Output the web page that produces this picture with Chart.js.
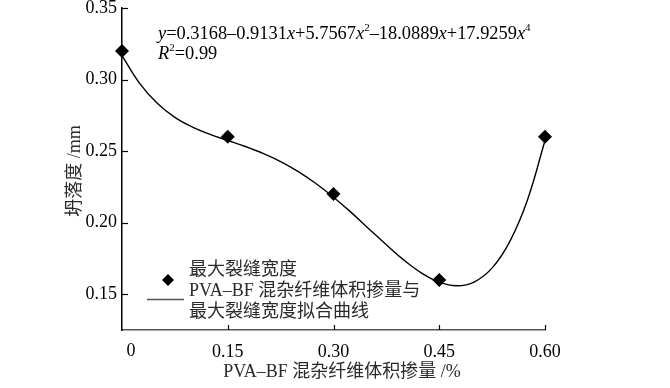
<!DOCTYPE html>
<html>
<head>
<meta charset="utf-8">
<script src="https://cdn.jsdelivr.net/npm/chart.js@4/dist/chart.umd.min.js"></script>
<style>
html,body{margin:0;padding:0;background:#fff;}
#wrap{width:670px;height:388px;position:relative;}
</style>
</head>
<body>
<div id="wrap"><canvas id="c" width="670" height="388"></canvas></div>
<script>
// measured points
const xValues = [0, 0.15, 0.30, 0.45, 0.60];
const crackWidth = [0.32, 0.26, 0.22, 0.16, 0.26];
// fitted curve
const fitX = [0, 0.025, 0.05, 0.075, 0.1, 0.125, 0.15, 0.175, 0.2, 0.225, 0.25, 0.275, 0.3,
              0.325, 0.35, 0.375, 0.4, 0.425, 0.45, 0.475, 0.5, 0.525, 0.55, 0.575, 0.6];
const fitY = [0.3168, 0.2973, 0.2834, 0.2736, 0.2668, 0.2617, 0.2574, 0.2532, 0.2484, 0.2427, 0.2357, 0.2274, 0.2178,
              0.2072, 0.1958, 0.1845, 0.1738, 0.1648, 0.1584, 0.1559, 0.1587, 0.1684, 0.1868, 0.2157, 0.2574];
const xTicks = [0, 0.15, 0.30, 0.45, 0.60];
const yTicks = [0.15, 0.20, 0.25, 0.30, 0.35];
const xTitle = 'PVA–BF 混杂纤维体积掺量 /%';
const yTitle = '坍落度 /mm';
const legendPoint = '最大裂缝宽度';
const legendLine = ['PVA–BF 混杂纤维体积掺量与', '最大裂缝宽度拟合曲线'];
const eqLine1 = [['y',1,0],['=0.3168–0.9131',0,0],['x',1,0],['+5.7567',0,0],['x',1,0],['2',0,1],['–18.0889',0,0],['x',1,0],['+17.9259',0,0],['x',1,0],['4',0,1]];
const eqLine2 = [['R',1,0],['2',0,1],['=0.99',0,0]];

const SERIF = "'Liberation Serif', 'Noto Sans CJK SC', serif";
const MIXED = "'Liberation Serif', 'Noto Sans CJK SC', serif";

function drawRich(ctx, x, y, parts, size) {
  let cx = x;
  ctx.textBaseline = 'alphabetic';
  ctx.textAlign = 'left';
  for (const [t, it, sup] of parts) {
    const fs = sup ? Math.round(size * 0.62) : size;
    ctx.font = (it ? 'italic ' : '') + fs + 'px ' + SERIF;
    ctx.fillText(t, cx, sup ? y - size * 0.42 : y);
    cx += ctx.measureText(t).width;
  }
}

const extras = {
  id: 'extras',
  afterDraw(chart) {
    const ctx = chart.ctx;
    const xs = chart.scales.x, ys = chart.scales.y;
    const ca = chart.chartArea;
    ctx.save();
    // inside tick marks
    ctx.strokeStyle = '#000';
    ctx.lineWidth = 1.2;
    yTicks.forEach(v => {
      const py = Math.round(ys.getPixelForValue(v)) + 0.5;
      ctx.beginPath(); ctx.moveTo(ca.left, py); ctx.lineTo(ca.left + 6, py); ctx.stroke();
    });
    xTicks.forEach(v => {
      if (v === 0) return;
      const px = Math.round(xs.getPixelForValue(v)) + 0.5;
      ctx.beginPath(); ctx.moveTo(px, ca.bottom); ctx.lineTo(px, ca.bottom - 5); ctx.stroke();
    });
    // "0" tick label, offset right of the axis corner
    ctx.fillStyle = '#000';
    ctx.font = '18px ' + SERIF;
    ctx.textAlign = 'center';
    ctx.textBaseline = 'middle';
    ctx.fillText('0', xs.getPixelForValue(0) + 9, 351);
    // axis titles
    ctx.fillStyle = '#2a2a2a';
    ctx.font = '18px ' + MIXED;
    ctx.fillText(xTitle, 342, 372);
    ctx.save();
    ctx.translate(75, 171);
    ctx.rotate(-Math.PI / 2);
    ctx.fillText(yTitle, 0, 0);
    ctx.restore();
    // legend
    const d = chart.data.datasets[1];
    ctx.fillStyle = d.backgroundColor;
    const lx = 168, ly = 280, r = 6;
    ctx.beginPath();
    ctx.moveTo(lx, ly - r); ctx.lineTo(lx + r, ly); ctx.lineTo(lx, ly + r); ctx.lineTo(lx - r, ly);
    ctx.closePath(); ctx.fill();
    ctx.strokeStyle = '#555';
    ctx.lineWidth = 1.3;
    ctx.beginPath(); ctx.moveTo(147, 299.5); ctx.lineTo(184, 299.5); ctx.stroke();
    ctx.fillStyle = '#2a2a2a';
    ctx.textAlign = 'left';
    ctx.textBaseline = 'middle';
    ctx.font = '18px ' + MIXED;
    ctx.fillText(legendPoint, 189, 270);
    ctx.fillText(legendLine[0], 189, 291);
    ctx.fillText(legendLine[1], 189, 312);
    // equation
    ctx.fillStyle = '#000';
    drawRich(ctx, 158, 39, eqLine1, 18.4);
    drawRich(ctx, 158, 59, eqLine2, 18.4);
    ctx.restore();
  }
};

new Chart(document.getElementById('c'), {
  type: 'scatter',
  data: {
    datasets: [
      {
        label: legendLine.join(''),
        data: fitX.map((x, i) => ({x, y: fitY[i]})),
        showLine: true,
        borderColor: '#000',
        borderWidth: 1.4,
        pointRadius: 0,
        tension: 0.4,
        clip: false,
        order: 2
      },
      {
        label: legendPoint,
        data: xValues.map((x, i) => ({x, y: crackWidth[i]})),
        pointStyle: 'rectRot',
        pointRadius: 7,
        backgroundColor: '#000',
        borderColor: '#000',
        borderWidth: 0,
        clip: false,
        order: 1
      }
    ]
  },
  options: {
    responsive: false,
    animation: false,
    events: [],
    layout: { padding: { top: 8, right: 125, left: 0, bottom: 0 } },
    plugins: { legend: { display: false }, tooltip: { enabled: false } },
    scales: {
      x: {
        type: 'linear', min: 0, max: 0.6,
        afterBuildTicks: s => { s.ticks = xTicks.map(v => ({value: v})); },
        afterFit: s => { s.height = 58; s.paddingLeft = 0; s.paddingRight = 0; },
        ticks: {
          callback: v => (v === 0 ? '' : v.toFixed(2)),
          font: { family: SERIF, size: 18 }, color: '#000', padding: 11,
          maxRotation: 0, autoSkip: false
        },
        grid: { display: false, drawTicks: false },
        border: { display: true, color: '#555', width: 1.6 }
      },
      y: {
        type: 'linear', min: 0.125, max: 0.35,
        afterBuildTicks: s => { s.ticks = yTicks.map(v => ({value: v})); },
        afterFit: s => { s.width = 122; s.paddingTop = 0; s.paddingBottom = 0; },
        ticks: {
          callback: v => v.toFixed(2),
          font: { family: SERIF, size: 18 }, color: '#000', padding: 5
        },
        grid: { display: false, drawTicks: false },
        border: { display: true, color: '#000', width: 1.5 }
      }
    }
  },
  plugins: [extras]
});
</script>
</body>
</html>
